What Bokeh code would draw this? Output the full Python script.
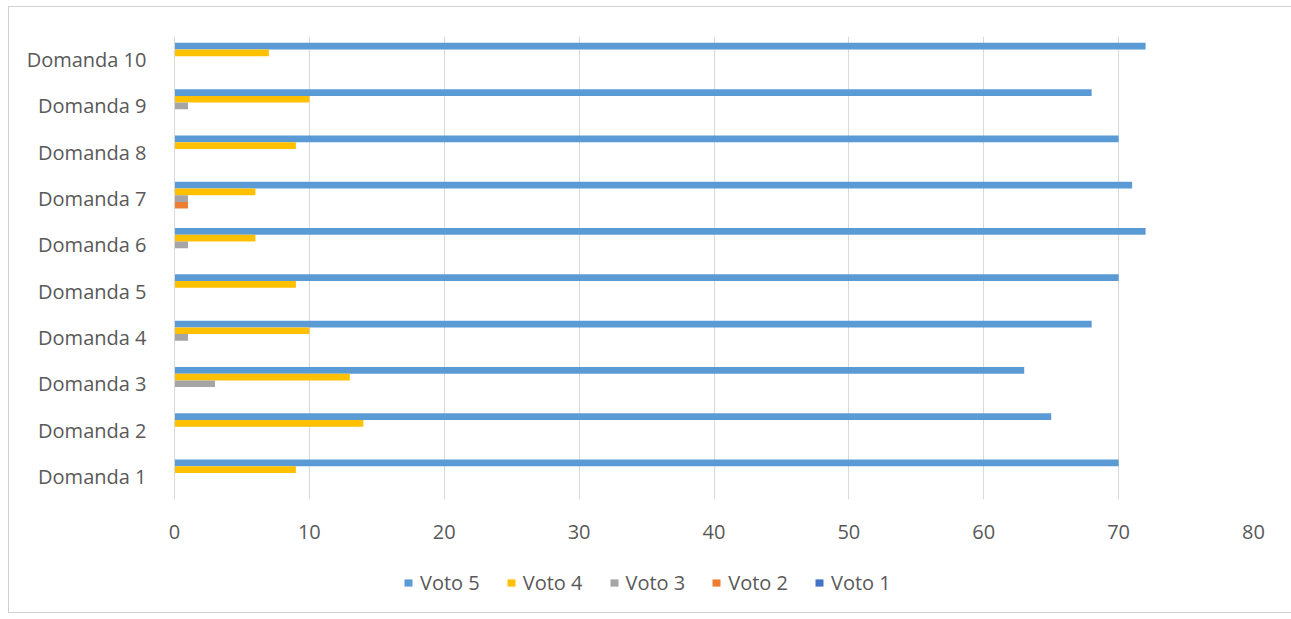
from bokeh.plotting import figure
from bokeh.layouts import column
from bokeh.models import ColumnDataSource, FactorRange, Legend, LegendItem, SingleIntervalTicker
from bokeh.transform import dodge
from bokeh.embed import file_html
from bokeh.resources import INLINE

# Survey answers: number of votes per score for each question
domande = ["Domanda 1", "Domanda 2", "Domanda 3", "Domanda 4", "Domanda 5",
           "Domanda 6", "Domanda 7", "Domanda 8", "Domanda 9", "Domanda 10"]
voto5 = [70, 65, 63, 68, 70, 72, 71, 70, 68, 72]
voto4 = [9, 14, 13, 10, 9, 6, 6, 9, 10, 7]
voto3 = [0, 0, 3, 1, 0, 1, 1, 0, 1, 0]
voto2 = [0, 0, 0, 0, 0, 0, 1, 0, 0, 0]
voto1 = [0, 0, 0, 0, 0, 0, 0, 0, 0, 0]

series_names = ["Voto 5", "Voto 4", "Voto 3", "Voto 2", "Voto 1"]
colors = ["#5B9BD5", "#FFC000", "#A5A5A5", "#ED7D31", "#4472C4"]

source = ColumnDataSource(dict(cat=domande, v5=voto5, v4=voto4, v3=voto3, v2=voto2, v1=voto1))
keys = ["v5", "v4", "v3", "v2", "v1"]

FONT = "Open Sans"
SIZE = "20px"
TEXT = "#595959"
GRID = "#d9d9d9"

bar_h = 0.145
offsets = [2 * bar_h, bar_h, 0.0, -bar_h, -2 * bar_h]

# main chart
p = figure(width=1283, height=553, output_backend="svg", toolbar_location=None,
           y_range=FactorRange(*domande), x_range=(0, 80),
           min_border_left=165, min_border_right=39, min_border_top=29,
           min_border_bottom=61)

for key, col, off in zip(keys, colors, offsets):
    p.hbar(y=dodge("cat", off, range=p.y_range), left=0, right=key, height=bar_h,
           source=source, fill_color=col, line_color=None)

p.outline_line_color = None
p.background_fill_color = "white"
p.border_fill_color = "white"

p.xgrid.grid_line_color = GRID
p.ygrid.grid_line_color = None
p.xaxis.ticker = SingleIntervalTicker(interval=10)
p.xaxis.axis_line_color = None
p.xaxis.major_tick_line_color = None
p.xaxis.minor_tick_line_color = None
p.xaxis.major_label_standoff = 19
p.xaxis.major_label_text_font = FONT
p.xaxis.major_label_text_font_size = SIZE
p.xaxis.major_label_text_color = TEXT

p.yaxis.axis_line_color = GRID
p.yaxis.major_tick_line_color = None
p.yaxis.minor_tick_line_color = None
p.yaxis.major_label_standoff = 22
p.yaxis.major_label_text_font = FONT
p.yaxis.major_label_text_font_size = SIZE
p.yaxis.major_label_text_color = TEXT

# legend strip under the chart (series drawn hidden, only their legend swatches show)
lg = figure(width=1283, height=52, output_backend="svg", toolbar_location=None,
            y_range=FactorRange(*domande), x_range=(0, 80), min_border=0)
lg.axis.visible = False
lg.grid.visible = False
lg.outline_line_color = None
lg.background_fill_color = "white"
lg.border_fill_color = "white"

items = []
for name, key, col, off in zip(series_names, keys, colors, offsets):
    r = lg.hbar(y=dodge("cat", off, range=lg.y_range), left=0, right=key, height=bar_h,
                source=source, fill_color=col, line_color=None, visible=False)
    items.append(LegendItem(label=name, renderers=[r]))

legend = Legend(items=items, orientation="horizontal", location=(229, 16),
                glyph_width=10, glyph_height=9, label_standoff=7, spacing=26,
                padding=0, margin=0, border_line_color=None, background_fill_alpha=0,
                inactive_fill_alpha=0,
                label_text_font=FONT, label_text_font_size=SIZE, label_text_color=TEXT)
lg.add_layout(legend)

page = column(p, lg, spacing=0, margin=(6, 0, 0, 8),
              styles={"border-left": "1px solid #d0d0d0", "border-top": "1px solid #d0d0d0",
                      "border-bottom": "1px solid #d0d0d0"})

open("out.html", "w").write(file_html(page, INLINE))
